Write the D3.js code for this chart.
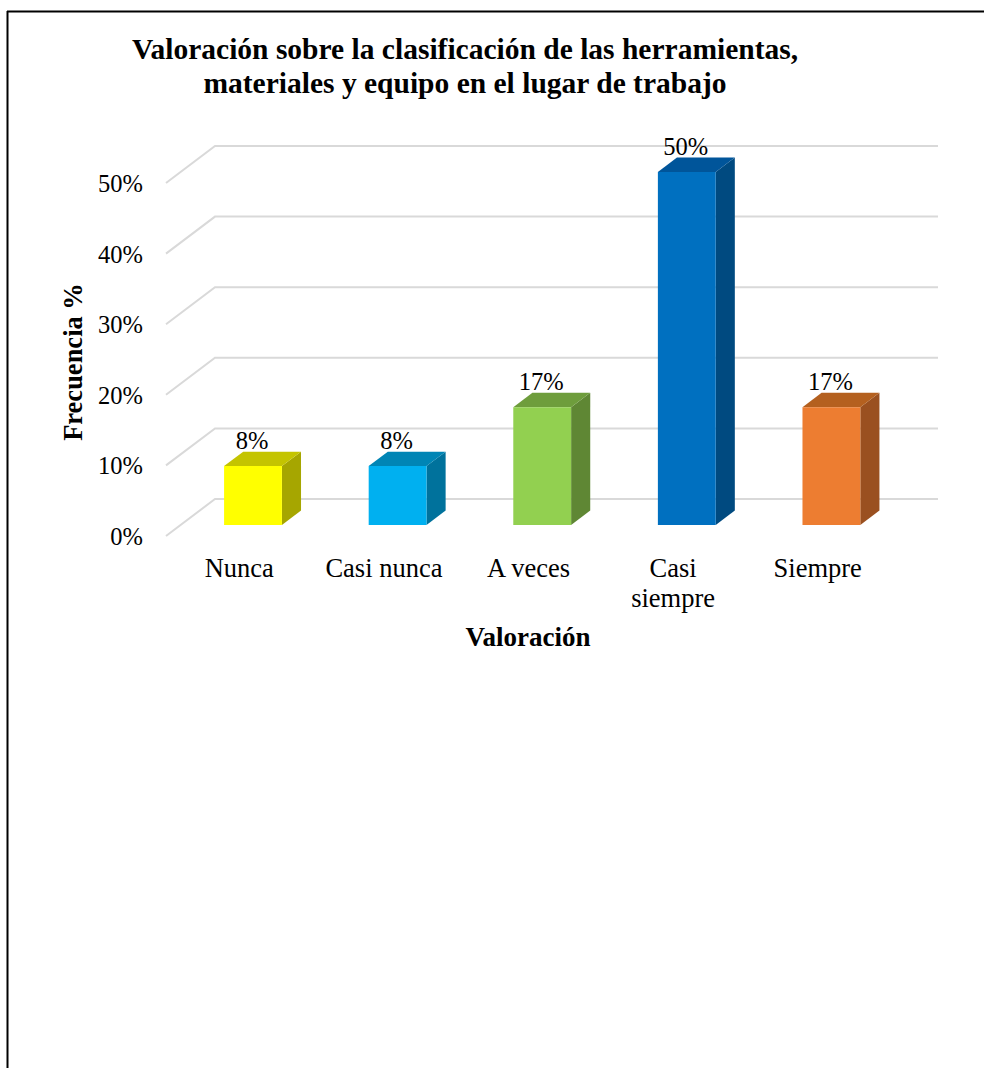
<!DOCTYPE html>
<html>
<head>
<meta charset="utf-8">
<script src="https://cdn.jsdelivr.net/npm/d3@7"></script>
<style>
  html, body { margin: 0; padding: 0; background: #fff; }
  svg { display: block; }
  text { font-family: "Liberation Serif", "Times New Roman", serif; fill: #000; }
</style>
</head>
<body>
<svg id="chart" width="984" height="1068"></svg>
<script>
// Categories and values (percent of responses)
const categories = ["Nunca", "Casi nunca", "A veces", "Casi siempre", "Siempre"];
const values = [8.33, 8.33, 16.67, 50, 16.67];
const yTicks = [0, 10, 20, 30, 40, 50];

// Face colours per bar: front, top, side
const frontColors = ["#FFFF00", "#00B0F0", "#92D050", "#0070C0", "#ED7D31"];
const topColors   = ["#C4C400", "#0085B5", "#6E9D3C", "#00559A", "#B4601F"];
const sideColors  = ["#A6A600", "#00729C", "#5F8734", "#004A80", "#9A5020"];

const svg = d3.select("#chart");

// Frame (top and left edges)
svg.append("line").attr("x1", 7).attr("x2", 984).attr("y1", 11.5).attr("y2", 11.5)
  .attr("stroke", "#000").attr("stroke-width", 2);
svg.append("line").attr("x1", 7.5).attr("x2", 7.5).attr("y1", 11).attr("y2", 1068)
  .attr("stroke", "#000").attr("stroke-width", 2);

// 3D projection: depth offset of the back wall
const depthX = 49, depthY = -37;
const x = d3.scaleBand().domain(categories).range([166, 889]).padding(0);
const y = d3.scaleLinear().domain([0, 50]).range([536, 183]);

const proj = (px, v, d) => [px + d * depthX, y(v) + d * depthY];

// Gridlines: side-wall diagonal plus back-wall horizontal
const gridG = svg.append("g");
yTicks.forEach(t => {
  const p0 = proj(166, t, 0), p1 = proj(166, t, 1), p2 = proj(889, t, 1);
  gridG.append("path")
    .attr("d", d3.line()([p0, p1, p2]))
    .attr("fill", "none").attr("stroke", "#D9D9D9").attr("stroke-width", 2);
});

// Y tick labels
svg.append("g").selectAll("text").data(yTicks).join("text")
  .attr("x", 143).attr("y", d => y(d) + 9)
  .attr("text-anchor", "end").attr("font-size", 24.5)
  .text(d => d + "%");

// Bars as 3D boxes
const d0 = 0.3, d1 = 0.69;
const barW = x.bandwidth() * 0.4;
const bars = svg.append("g");
categories.forEach((c, i) => {
  const v = values[i];
  const xl = x(c) + x.bandwidth() / 2 - barW / 2, xr = xl + barW;
  const poly = pts => "M" + pts.map(p => p.join(",")).join("L") + "Z";
  // side face
  bars.append("path").attr("fill", sideColors[i])
    .attr("d", poly([proj(xr, 0, d0), proj(xr, 0, d1), proj(xr, v, d1), proj(xr, v, d0)]));
  // top face
  bars.append("path").attr("fill", topColors[i])
    .attr("d", poly([proj(xl, v, d0), proj(xr, v, d0), proj(xr, v, d1), proj(xl, v, d1)]));
  // front face
  bars.append("path").attr("fill", frontColors[i])
    .attr("d", poly([proj(xl, 0, d0), proj(xr, 0, d0), proj(xr, v, d0), proj(xl, v, d0)]));
  // value label
  const top = proj((xl + xr) / 2, v, d1);
  bars.append("text")
    .attr("x", proj((xl + xr) / 2, v, d0)[0] - 1)
    .attr("y", top[1] - 2.5)
    .attr("text-anchor", "middle").attr("font-size", 24.5)
    .text(d3.format(".0f")(v) + "%");
});

// Category labels (with wrapping for two-word labels that do not fit)
const catG = svg.append("g");
categories.forEach(c => {
  const cx = x(c) + x.bandwidth() / 2 + 1;
  const lines = c === "Casi siempre" ? ["Casi", "siempre"] : [c];
  lines.forEach((ln, j) => {
    catG.append("text").attr("x", cx).attr("y", 577 + j * 30)
      .attr("text-anchor", "middle").attr("font-size", 26.5).text(ln);
  });
});

// Axis titles
svg.append("text").attr("x", 528).attr("y", 646)
  .attr("text-anchor", "middle").attr("font-size", 27).attr("font-weight", "bold")
  .text("Valoración");
svg.append("text")
  .attr("transform", "translate(82,362) rotate(-90)")
  .attr("text-anchor", "middle").attr("font-size", 26.5).attr("font-weight", "bold")
  .text("Frecuencia %");

// Chart title
const title = svg.append("text").attr("text-anchor", "middle")
  .attr("font-size", 29.5).attr("font-weight", "bold");
title.append("tspan").attr("x", 465).attr("y", 59)
  .text("Valoración sobre la clasificación de las herramientas,");
title.append("tspan").attr("x", 465).attr("y", 93)
  .text("materiales y equipo en el lugar de trabajo");
</script>
</body>
</html>
